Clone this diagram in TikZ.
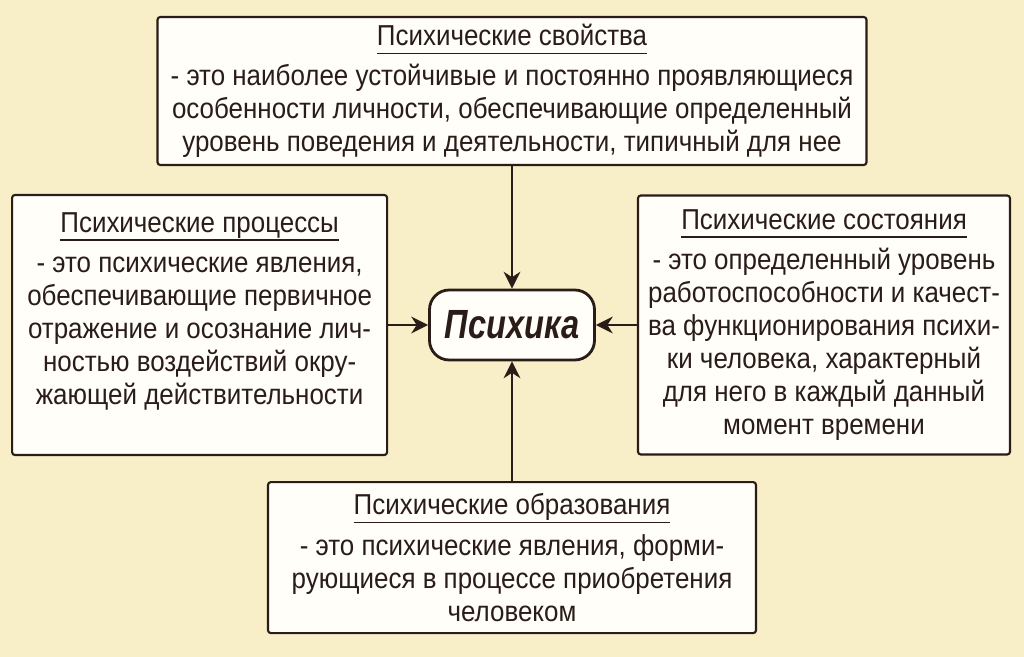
\documentclass[tikz,border=0pt]{standalone}
\usepackage{fontspec}
\setmainfont{Liberation Sans}[FakeStretch=0.9]
\newfontfamily\psyfont{Liberation Sans}[FakeStretch=0.8]
\usetikzlibrary{arrows.meta, positioning}
\definecolor{paper}{HTML}{F8EFC9}
\definecolor{boxfill}{HTML}{FFFEF9}
\definecolor{inkbrown}{HTML}{2A1C16}
\definecolor{textbrown}{HTML}{3B2F29}
% underlined heading of a card
\newcommand{\ttl}[1]{\setbox0\hbox{\color{inkbrown}#1}\rlap{\color{inkbrown}\rule[-6pt]{\wd0}{0.9pt}}\box0}

\begin{document}
\begin{tikzpicture}[
    card/.style={draw=inkbrown, line width=1.5pt, fill=boxfill, rounded corners=2pt, align=center, text=textbrown, font=\fontsize{20.5}{23.5}\selectfont, inner sep=0pt},
    core/.style={draw=inkbrown, line width=2pt, fill=boxfill, rounded corners=14pt, minimum width=4.125cm, minimum height=1.75cm, text=inkbrown, font=\psyfont\fontsize{29}{30}\selectfont\bfseries\itshape},
    link/.style={draw=inkbrown, line width=1.6pt, -{Stealth[length=12pt, width=12pt]}},
]

% Background
\fill[paper] (0,0) rectangle (25.6,-16.425);
\useasboundingbox (0,0) rectangle (25.6,-16.425);

% Centre
\node[core] (psyche) at (12.8,-8.125) {Психика};

% Top
\node[card, minimum width=17.725cm, minimum height=3.7cm] (svoistva) at (12.8,-2.275) {
\ttl{Психические свойства}\\[5pt]
- это наиболее устойчивые и постоянно проявляющиеся\\
особенности личности, обеспечивающие определенный\\
уровень поведения и деятельности, типичный для нее};

% Left
\node[card, minimum width=9.375cm, minimum height=6.5cm] (processy) at (4.99,-8.125) {
\ttl{Психические процессы}\\[5pt]
- это психические явления,\\
обеспечивающие первичное\\
отражение и осознание лич-\\
ностью воздействий окру-\\
жающей действительности\\~};

% Right
\node[card, minimum width=9.3cm, minimum height=6.475cm] (sostoyaniya) at (20.6,-8.125) {
\ttl{Психические состояния}\\[5pt]
- это определенный уровень\\
работоспособности и качест-\\
ва функционирования психи-\\
ки человека, характерный\\
для него в каждый данный\\
момент времени};

% Bottom
\node[card, minimum width=12.2cm, minimum height=3.775cm] (obrazovaniya) at (12.8,-13.94) {
\ttl{Психические образования}\\[5pt]
- это психические явления, форми-\\
рующиеся в процессе приобретения\\
человеком};

% Arrows
\draw[link] (svoistva) -- (psyche);
\draw[link] (processy) -- (psyche);
\draw[link] (sostoyaniya) -- (psyche);
\draw[link] (obrazovaniya) -- (psyche);

\end{tikzpicture}
\end{document}
